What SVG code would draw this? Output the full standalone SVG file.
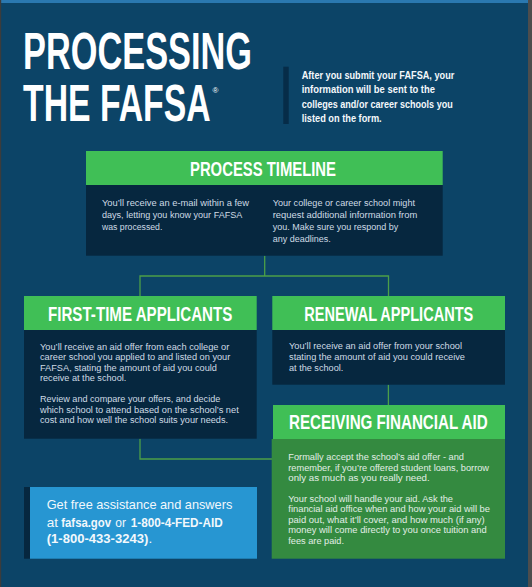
<svg xmlns="http://www.w3.org/2000/svg" width="532" height="587" viewBox="0 0 532 587">
<style>
.hd{fill:#40bf56}
.dk{fill:#06273f}
.ht{font-family:"Liberation Sans",Arial,sans-serif;font-weight:bold;font-size:20px;fill:#ffffff}
.b{font-family:"Liberation Sans",Arial,sans-serif;font-size:9.6px;fill:#cfdbe5}
.g{fill:#e2eee6}
.con{fill:none;stroke:#4c9f48;stroke-width:1.3}
.t{font-family:"Liberation Sans",Arial,sans-serif;font-weight:bold;font-size:52px;fill:#ffffff}
.ip{font-family:"Liberation Sans",Arial,sans-serif;font-weight:bold;font-size:10.2px;fill:#f4f8fb}
.bl{font-family:"Liberation Sans",Arial,sans-serif;font-size:13.5px;fill:#f2f8fc}
.bb{font-weight:bold}
</style>
<rect x="0" y="0" width="532" height="587" fill="#0c4467"/>
<rect x="0" y="0" width="528" height="3" fill="#2a78b0"/>
<rect x="0" y="0" width="1.2" height="587" fill="#3c3c3c"/>
<rect x="528" y="0" width="4" height="587" fill="#4d4d4d"/>

<g id="header">
<text class="t" x="23" y="69.3" textLength="229" lengthAdjust="spacingAndGlyphs">PROCESSING</text>
<text class="t" x="23" y="120.7" textLength="187.7" lengthAdjust="spacingAndGlyphs">THE FAFSA</text>
<text x="212.5" y="92.5" font-family="Liberation Sans,Arial,sans-serif" font-size="8px" fill="#ffffff">®</text>
<rect x="283.3" y="66.7" width="5.4" height="57.3" fill="#062c48"/>
<text class="ip" x="301.7" y="78.7" textLength="152.6" lengthAdjust="spacingAndGlyphs">After you submit your FAFSA, your</text>
<text class="ip" x="301.7" y="93" textLength="133.3" lengthAdjust="spacingAndGlyphs">information will be sent to the</text>
<text class="ip" x="301.7" y="107.5" textLength="151" lengthAdjust="spacingAndGlyphs">colleges and/or career schools you</text>
<text class="ip" x="301.7" y="122" textLength="80" lengthAdjust="spacingAndGlyphs">listed on the form.</text>
</g>

<g id="connectors">
<path class="con" d="M264.7,255.7 V276 M140,296 V276 H388.5 V296"/>
<path class="con" d="M388.4,384.7 V405"/>
<path class="con" d="M140,438.7 V459 H272"/>
</g>

<g id="process-timeline">
<rect class="hd" x="86" y="151" width="356.7" height="34"/>
<rect class="dk" x="86" y="185" width="356.7" height="70.7"/>
<text class="ht" x="190" y="175.7" textLength="146" lengthAdjust="spacingAndGlyphs">PROCESS TIMELINE</text>
<text class="b" x="102" y="206.3" textLength="147" lengthAdjust="spacingAndGlyphs">You’ll receive an e-mail within a few</text>
<text class="b" x="102" y="218.3" textLength="140.3" lengthAdjust="spacingAndGlyphs">days, letting you know your FAFSA</text>
<text class="b" x="102" y="230" textLength="60.3" lengthAdjust="spacingAndGlyphs">was processed.</text>
<text class="b" x="272.7" y="206.3" textLength="142.3" lengthAdjust="spacingAndGlyphs">Your college or career school might</text>
<text class="b" x="272.7" y="218.3" textLength="144.6" lengthAdjust="spacingAndGlyphs">request additional information from</text>
<text class="b" x="272.7" y="230" textLength="125.6" lengthAdjust="spacingAndGlyphs">you. Make sure you respond by</text>
<text class="b" x="272.7" y="241.7" textLength="58" lengthAdjust="spacingAndGlyphs">any deadlines.</text>
</g>

<g id="first-time-applicants">
<rect class="hd" x="24" y="296" width="232.7" height="34"/>
<rect class="dk" x="24" y="330" width="232.7" height="108.7"/>
<text class="ht" x="48" y="320.7" textLength="184.3" lengthAdjust="spacingAndGlyphs">FIRST-TIME APPLICANTS</text>
<text class="b" x="40" y="349.5" textLength="189.3" lengthAdjust="spacingAndGlyphs">You’ll receive an aid offer from each college or</text>
<text class="b" x="40" y="360" textLength="190.3" lengthAdjust="spacingAndGlyphs">career school you applied to and listed on your</text>
<text class="b" x="40" y="370.5" textLength="177" lengthAdjust="spacingAndGlyphs">FAFSA, stating the amount of aid you could</text>
<text class="b" x="40" y="381" textLength="86.3" lengthAdjust="spacingAndGlyphs">receive at the school.</text>
<text class="b" x="40" y="402" textLength="180.3" lengthAdjust="spacingAndGlyphs">Review and compare your offers, and decide</text>
<text class="b" x="40" y="412.7" textLength="198.7" lengthAdjust="spacingAndGlyphs">which school to attend based on the school’s net</text>
<text class="b" x="40" y="423.3" textLength="188" lengthAdjust="spacingAndGlyphs">cost and how well the school suits your needs.</text>
</g>

<g id="renewal-applicants">
<rect class="hd" x="272.3" y="296" width="232.7" height="34"/>
<rect class="dk" x="272.3" y="330" width="232.7" height="54.7"/>
<text class="ht" x="304.3" y="320.7" textLength="169" lengthAdjust="spacingAndGlyphs">RENEWAL APPLICANTS</text>
<text class="b" x="289" y="349" textLength="173" lengthAdjust="spacingAndGlyphs">You’ll receive an aid offer from your school</text>
<text class="b" x="289" y="359.5" textLength="176" lengthAdjust="spacingAndGlyphs">stating the amount of aid you could receive</text>
<text class="b" x="289" y="370.5" textLength="54.3" lengthAdjust="spacingAndGlyphs">at the school.</text>
</g>

<g id="receiving-financial-aid">
<rect class="hd" x="273" y="405" width="232" height="34"/>
<rect x="271.7" y="439" width="233.3" height="119.7" fill="#348a40"/>
<text class="ht" x="289" y="429.3" textLength="198.7" lengthAdjust="spacingAndGlyphs">RECEIVING FINANCIAL AID</text>
<text class="b g" x="288.3" y="460" textLength="175.7" lengthAdjust="spacingAndGlyphs">Formally accept the school’s aid offer - and</text>
<text class="b g" x="288.3" y="470.5" textLength="200.7" lengthAdjust="spacingAndGlyphs">remember, if you’re offered student loans, borrow</text>
<text class="b g" x="288.3" y="481" textLength="141.4" lengthAdjust="spacingAndGlyphs">only as much as you really need.</text>
<text class="b g" x="288.3" y="501.5" textLength="164.7" lengthAdjust="spacingAndGlyphs">Your school will handle your aid. Ask the</text>
<text class="b g" x="288.3" y="512" textLength="201.7" lengthAdjust="spacingAndGlyphs">financial aid office when and how your aid will be</text>
<text class="b g" x="288.3" y="522.5" textLength="196.4" lengthAdjust="spacingAndGlyphs">paid out, what it’ll cover, and how much (if any)</text>
<text class="b g" x="288.3" y="533" textLength="198.4" lengthAdjust="spacingAndGlyphs">money will come directly to you once tuition and</text>
<text class="b g" x="288.3" y="543.5" textLength="55.7" lengthAdjust="spacingAndGlyphs">fees are paid.</text>
</g>

<g id="help-box">
<rect x="24" y="487" width="6" height="71.7" fill="#06273f"/>
<rect x="30" y="487" width="227" height="71.7" fill="#2796d2"/>
<text class="bl" x="46.7" y="509" textLength="185.6" lengthAdjust="spacingAndGlyphs">Get free assistance and answers</text>
<text class="bl" y="526.5"><tspan x="46.7">at</tspan><tspan class="bb" x="61.3" textLength="49.7" lengthAdjust="spacingAndGlyphs">fafsa.gov</tspan><tspan x="115.3" textLength="10.7" lengthAdjust="spacingAndGlyphs">or</tspan><tspan class="bb" x="130.7" textLength="92" lengthAdjust="spacingAndGlyphs">1-800-4-FED-AID</tspan></text>
<text class="bl" y="542.5"><tspan class="bb" x="46.7" textLength="101.6" lengthAdjust="spacingAndGlyphs">(1-800-433-3243)</tspan><tspan x="148.6">.</tspan></text>
</g>
</svg>
